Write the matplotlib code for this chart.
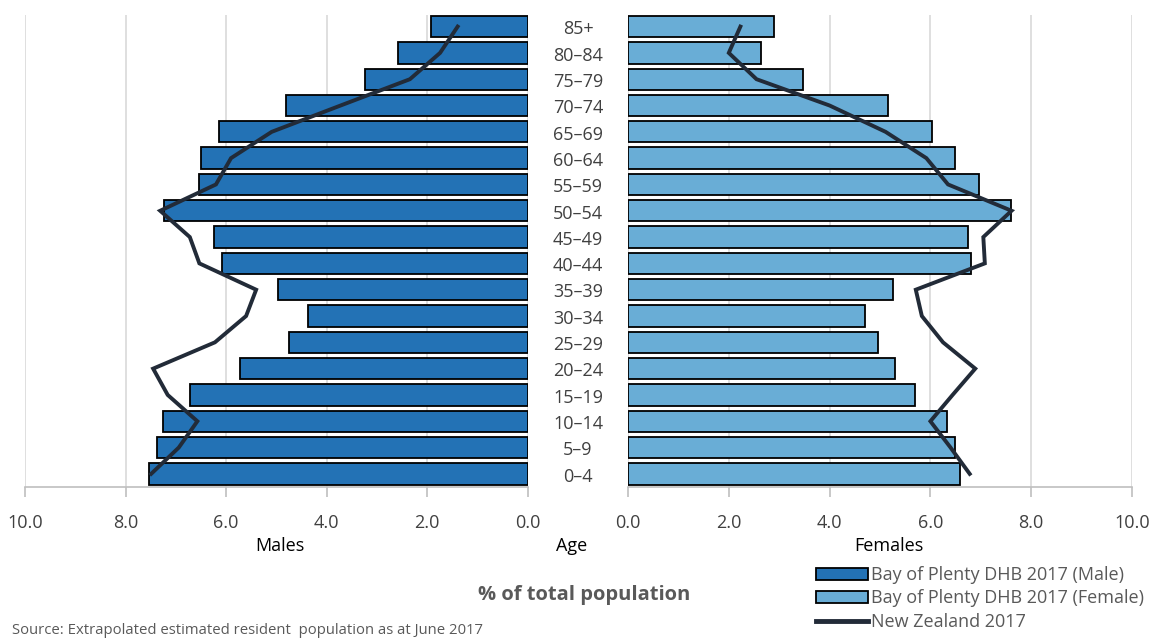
import matplotlib.pyplot as plt
from matplotlib.patches import Patch
from matplotlib.lines import Line2D

plt.rcParams['font.family'] = ['Open Sans', 'DejaVu Sans']

ages = ['0–4', '5–9', '10–14', '15–19', '20–24', '25–29', '30–34', '35–39', '40–44',
        '45–49', '50–54', '55–59', '60–64', '65–69', '70–74', '75–79', '80–84', '85+']

# % of total population, Bay of Plenty DHB 2017
bop_male = [7.54, 7.38, 7.25, 6.72, 5.73, 4.74, 4.36, 4.96, 6.08,
            6.24, 7.23, 6.53, 6.49, 6.14, 4.80, 3.24, 2.57, 1.93]
bop_female = [6.58, 6.49, 6.33, 5.69, 5.29, 4.97, 4.70, 5.26, 6.80,
              6.74, 7.60, 6.96, 6.49, 6.04, 5.16, 3.47, 2.64, 2.89]

# New Zealand 2017
nz_male = [7.49, 6.94, 6.57, 7.16, 7.45, 6.22, 5.60, 5.40, 6.53,
           6.72, 7.31, 6.20, 5.90, 5.09, 3.72, 2.34, 1.74, 1.39]
nz_female = [6.78, 6.40, 6.00, 6.44, 6.89, 6.25, 5.83, 5.71, 7.08,
             7.05, 7.61, 6.35, 5.92, 5.11, 4.00, 2.55, 2.00, 2.23]

ticks = [0, 2, 4, 6, 8, 10]

male_col = '#2372b5'
female_col = '#69add6'
line_col = '#222b38'
text_col = '#404040'
grid_col = '#d9d9d9'

fig = plt.figure(figsize=(11.55, 6.39), dpi=100)
bottom = 1 - 487.3 / 639
height = (487.3 - 15) / 639
axL = fig.add_axes([25 / 1155, bottom, (527.5 - 25) / 1155, height])
axR = fig.add_axes([628 / 1155, bottom, (1132 - 628) / 1155, height])

y = list(range(len(ages)))

axL.barh(y, bop_male, height=0.81, color=male_col, edgecolor='black', linewidth=1.3, zorder=2)
axL.plot(nz_male, y, color=line_col, linewidth=2.8, zorder=3, solid_joinstyle='miter')
axR.barh(y, bop_female, height=0.81, color=female_col, edgecolor='black', linewidth=1.3, zorder=2)
axR.plot(nz_female, y, color=line_col, linewidth=2.8, zorder=3, solid_joinstyle='miter')

axL.set_xlim(10, 0)
axR.set_xlim(0, 10)

for ax in (axL, axR):
    ax.set_ylim(-0.51, 17.44)
    ax.set_xticks(ticks)
    ax.set_xticklabels(['%.1f' % t for t in ticks])
    ax.set_yticks([])
    for s in ('top', 'left', 'right'):
        ax.spines[s].set_visible(False)
    ax.spines['bottom'].set_color('#bfbfbf')
    ax.spines['bottom'].set_linewidth(1.2)
    ax.tick_params(axis='x', length=7, width=1.2, color='#bfbfbf', pad=12,
                   labelsize=13, labelcolor=text_col)
    ax.xaxis.grid(True, color=grid_col, linewidth=1.2, zorder=0)
    ax.set_axisbelow(True)

# age labels in the middle, placed on the bar rows of the left axes
for i, a in enumerate(ages):
    axL.annotate(a, xy=(0, i), xycoords='data', xytext=(36.4, -2), textcoords='offset points',
                 ha='center', va='center', fontsize=13, color=text_col, annotation_clip=False)

fig.text(280 / 1155, 1 - 546 / 639, 'Males', ha='center', va='center', fontsize=13, color='black')
fig.text(572 / 1155, 1 - 546 / 639, 'Age', ha='center', va='center', fontsize=13, color='black')
fig.text(889 / 1155, 1 - 546 / 639, 'Females', ha='center', va='center', fontsize=13, color='black')
fig.text(584 / 1155, 1 - 595 / 639, '% of total population', ha='center', va='center',
         fontsize=14.5, fontweight='bold', color='#595959')
fig.text(12 / 1155, 1 - 630 / 639, 'Source: Extrapolated estimated resident  population as at June 2017',
         ha='left', va='center', fontsize=10.7, color='#595959')

handles = [Patch(facecolor=male_col, edgecolor='black', linewidth=1.3),
           Patch(facecolor=female_col, edgecolor='black', linewidth=1.3),
           Line2D([0], [0], color=line_col, linewidth=3.5)]
labels = ['Bay of Plenty DHB 2017 (Male)', 'Bay of Plenty DHB 2017 (Female)', 'New Zealand 2017']
fig.legend(handles, labels, loc='upper left', bbox_to_anchor=(816 / 1155, 1 - 566 / 639),
           frameon=False, fontsize=13, labelcolor='#595959', handlelength=2.9, handleheight=0.65,
           handletextpad=0.15, labelspacing=0.3, borderpad=0, borderaxespad=0)

plt.savefig('out.png', dpi=100)
